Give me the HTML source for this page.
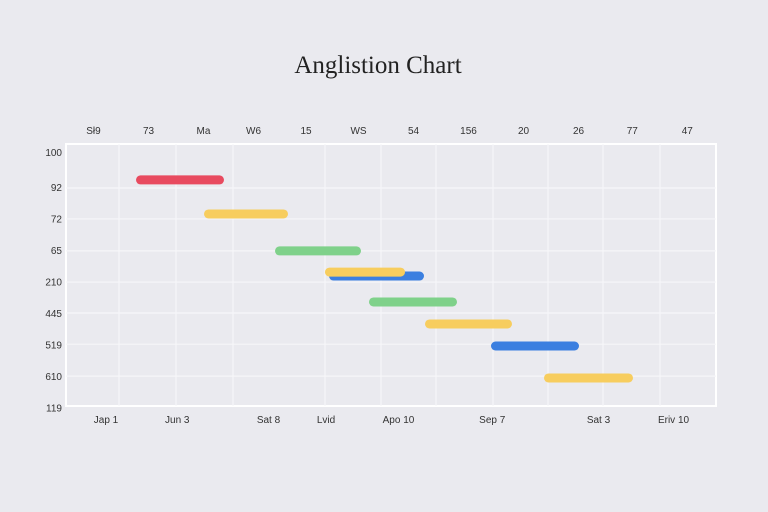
<!DOCTYPE html>
<html><head><meta charset="utf-8"><style>
body{margin:0;background:#eaeaef;}
svg{display:block;font-family:"Liberation Sans",sans-serif;}
</style></head><body>
<svg width="768" height="512" viewBox="0 0 768 512">
<rect width="768" height="512" fill="#eaeaef"/>
<text x="378" y="73" text-anchor="middle" font-family="Liberation Serif,serif" font-size="25" fill="#222">Anglistion Chart</text>
<g id="grid"></g><g id="bars"></g><g id="labels"></g>
</svg>
<script>
const xDomain=[0,52], yDomain=[0,10];
const topLabels=["Sł9","73","Ma","W6","15","WS","54","156","20","26","77","47"];
const topPos=[2.2,6.6,11.0,15.0,19.2,23.4,27.8,32.2,36.6,41.0,45.3,49.7];
const bottomLabels=["Jap 1","Jun 3","Sat 8","Lvid","Apo 10","Sep 7","Sat 3","Eriv 10"];
const bottomPos=[3.2,8.9,16.2,20.8,26.6,34.1,42.6,48.6];
const yLabels=["100","92","72","65","210","445","519","610","119"];
const yPos=[0.3,1.65,2.85,4.05,5.25,6.45,7.65,8.85,10.05];
const vGrid=[4.24,8.8,13.36,20.72,25.2,29.6,34.16,38.56,42.96,47.52];
const hGrid=[1.68,2.86,4.08,5.27,6.45,7.64,8.86];
const starts=[5.6,11.04,16.72,21.04,20.72,24.24,28.72,34.0,38.24];
const ends=[12.64,17.76,23.6,28.64,27.12,31.28,35.68,41.04,45.36];
const rows=[1.37,2.67,4.08,5.04,4.89,6.03,6.87,7.71,8.93];
const colors=["#e84a5f","#f7cd5e","#7fd18a","#3b7fe0","#f7cd5e","#7fd18a","#f7cd5e","#3b7fe0","#f7cd5e"];
const X0=66,X1=716,Y0=144,Y1=406;
const sx=v=>X0+(v-xDomain[0])/(xDomain[1]-xDomain[0])*(X1-X0);
const sy=v=>Y0+(v-yDomain[0])/(yDomain[1]-yDomain[0])*(Y1-Y0);
const NS="http://www.w3.org/2000/svg";
function mk(t,a,p){const e=document.createElementNS(NS,t);for(const k in a)e.setAttribute(k,a[k]);p.appendChild(e);return e;}
const g=document.getElementById('grid'),b=document.getElementById('bars'),l=document.getElementById('labels');
let pr=mk('rect',{x:X0,y:Y0,width:X1-X0,height:Y1-Y0,fill:'none',stroke:'#fff','stroke-width':2},g);


vGrid.forEach(v=>{const e=mk('line',{x1:sx(v),x2:sx(v),y1:Y0,y2:Y1,stroke:'#f6f6f9','stroke-width':1.2},g);

});
hGrid.forEach(v=>{const e=mk('line',{x1:X0,x2:X1,y1:sy(v),y2:sy(v),stroke:'#f6f6f9','stroke-width':1.2},g);

});
starts.forEach((s,i)=>{const e=mk('rect',{x:sx(s),y:sy(rows[i])-4.5,width:sx(ends[i])-sx(s),height:9,rx:4.5,fill:colors[i]},b);

});
topLabels.forEach((t,i)=>{const e=mk('text',{x:sx(topPos[i]),y:134,'text-anchor':'middle','font-size':10,fill:'#333'},l);e.textContent=t;

});
bottomLabels.forEach((t,i)=>{const e=mk('text',{x:sx(bottomPos[i]),y:423,'text-anchor':'middle','font-size':10,fill:'#333'},l);e.textContent=t;

});
yLabels.forEach((t,i)=>{const e=mk('text',{x:62,y:sy(yPos[i])+4,'text-anchor':'end','font-size':10,fill:'#333'},l);e.textContent=t;

});
</script>
</body></html>
